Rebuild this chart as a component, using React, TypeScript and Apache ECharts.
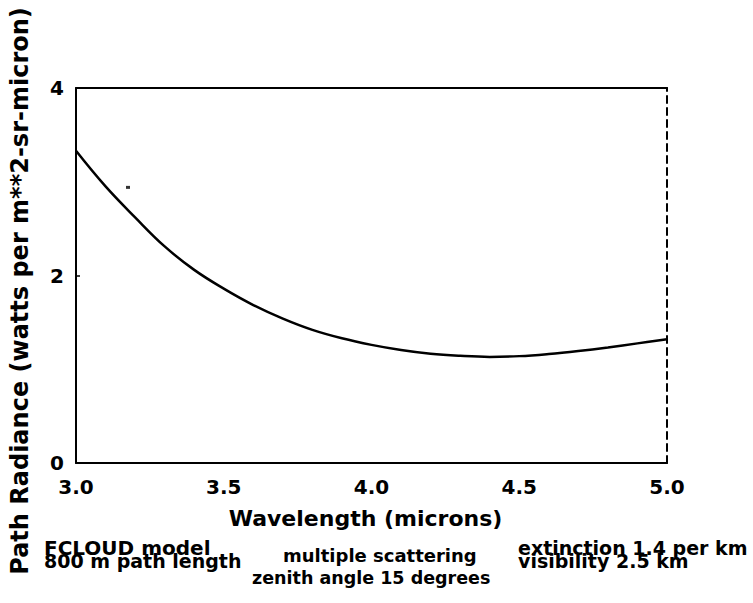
import React, { useEffect, useRef } from "react";
import * as echarts from "echarts";

const wavelengths = [3.0, 3.1, 3.2, 3.3, 3.4, 3.5, 3.6, 3.7, 3.8, 3.9, 4.0, 4.1, 4.2, 4.3, 4.4, 4.5, 4.6, 4.7, 4.8, 4.9, 5.0];
const radiance = [3.33, 2.95, 2.62, 2.31, 2.06, 1.86, 1.685, 1.54, 1.42, 1.33, 1.26, 1.205, 1.165, 1.143, 1.132, 1.14, 1.163, 1.195, 1.233, 1.276, 1.32];
const strayMark = [[3.176, 2.94]];
const xTicks = [3.0, 3.5, 4.0, 4.5, 5.0];
const yTicks = [0, 2, 4];
const yTitle = "Path Radiance (watts per m**2-sr-micron)";
const xTitle = "Wavelength (microns)";

const FONT = "DejaVu Sans";

export default function App() {
  const ref = useRef<HTMLDivElement>(null);
  useEffect(() => {
    if (!ref.current) return;
    const chart = echarts.init(ref.current, null, { renderer: "svg" });
    const lineData = wavelengths.map((w, i) => [w, radiance[i]]);
    const txt = (text: string, left: number, top: number, size: number) => ({
      type: "text",
      left,
      top,
      style: { text, fill: "#000", font: `bold ${size}px "${FONT}"` },
    });
    chart.setOption({
      animation: false,
      backgroundColor: "#ffffff",
      grid: { left: 76, right: 86, top: 88, bottom: 140 },
      xAxis: [
        {
          type: "value",
          min: 3.0,
          max: 5.0,
          interval: 0.5,
          position: "bottom",
          name: xTitle,
          nameLocation: "middle",
          nameGap: 44,
          nameTextStyle: { color: "#000", fontFamily: FONT, fontWeight: "bold", fontSize: 22, padding: [0, 12, 0, 0] },
          axisLine: { show: true, lineStyle: { color: "#000", width: 2 } },
          axisTick: { show: false },
          splitLine: { show: false },
          axisLabel: {
            color: "#000",
            fontFamily: FONT,
            fontWeight: "bold",
            fontSize: 20,
            margin: 14,
            formatter: (v: number) => (xTicks.includes(v) ? v.toFixed(1) : ""),
          },
        },
        {
          type: "value",
          min: 3.0,
          max: 5.0,
          position: "top",
          axisLine: { show: true, onZero: false, lineStyle: { color: "#000", width: 2 } },
          axisTick: { show: false },
          axisLabel: { show: false },
          splitLine: { show: false },
        },
      ],
      yAxis: [
        {
          type: "value",
          min: 0,
          max: 4,
          interval: 2,
          position: "left",
          axisLine: { show: true, lineStyle: { color: "#000", width: 2 } },
          axisTick: { show: true, inside: true, length: 4, lineStyle: { color: "#000", width: 1.5 } },
          splitLine: { show: false },
          axisLabel: {
            color: "#000",
            fontFamily: FONT,
            fontWeight: "bold",
            fontSize: 20,
            margin: 12,
            formatter: (v: number) => (yTicks.includes(v) ? String(v) : ""),
          },
        },
        {
          type: "value",
          min: 0,
          max: 4,
          position: "right",
          axisLine: { show: true, onZero: false, lineStyle: { color: "#000", width: 2, type: [7, 5] } },
          axisTick: { show: false },
          axisLabel: { show: false },
          splitLine: { show: false },
        },
      ],
      series: [
        {
          type: "line",
          data: lineData,
          smooth: 0.4,
          showSymbol: false,
          symbol: "none",
          lineStyle: { color: "#000", width: 2.5 },
        },
        {
          type: "scatter",
          data: strayMark,
          symbol: "rect",
          symbolSize: [4, 3],
          itemStyle: { color: "#000" },
        },
      ],
      graphic: [
        {
          type: "text",
          x: 20,
          y: 291,
          rotation: Math.PI / 2,
          style: {
            text: yTitle,
            fill: "#000",
            font: `bold 24px "${FONT}"`,
            align: "center",
            verticalAlign: "middle",
          },
        },
        txt("FCLOUD model", 44, 538, 20),
        txt("800 m path length", 44, 551, 19),
        txt("multiple scattering", 283, 546, 18),
        txt("extinction 1.4 per km", 518, 538, 19),
        txt("visibility 2.5 km", 518, 551, 19),
        txt("zenith angle 15 degrees", 252, 569, 17.5),
      ],
    });
    return () => chart.dispose();
  }, []);
  return <div ref={ref} style={{ width: 753, height: 603, position: "absolute", left: 0, top: 0 }} />;
}
